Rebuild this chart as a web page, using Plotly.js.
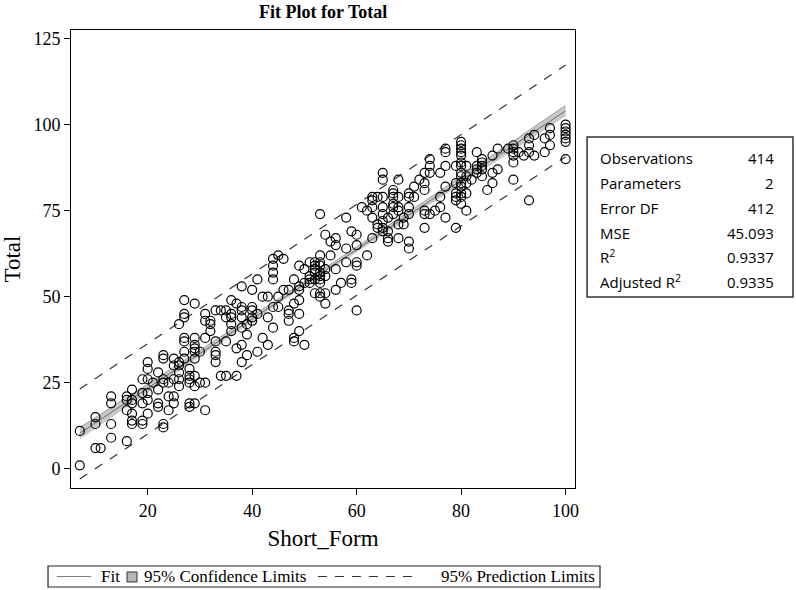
<!DOCTYPE html>
<html>
<head>
<meta charset="utf-8">
<script src="https://cdn.plot.ly/plotly-3.0.1.min.js"></script>
<style>
body{margin:0;background:#fff;}
#myPlot{width:796px;height:590px;}
</style>
</head>
<body>
<div id="myPlot"></div>
<script>
var shortForm = [
 7,7, 10,10,10, 11, 13,13,13,13, 16,16,16,16, 17,17,17,17,17,17,
 19,19,19,19,19, 20,20,20,20,20,20, 21, 22,22,22,22, 23,23,23,23,23,23,
 24,24,24, 25,25,25,25,25, 26,26,26,26,26,26, 27,27,27,27,27,27,27,
 28,28,28,28,28,28, 29,29,29,29,29,29,29,29,29, 30,30, 31,31,31,31,31,
 32,32,32, 33,33,33,33,33, 34,34, 35,35,35,35, 36,36,36,36,36, 37,37,37,
 38,38,38,38,38,38,38, 39,39,39, 40,40,40,40,40, 41,41,41, 42,42, 43,43,43,
 44,44,44,44,44,44, 45,45,45, 46,46, 47,47,47,47, 48,48,48,48,
 49,49,49,49,49,49, 50,50,50, 51,51,51,51, 52,52,52,52,52,52,
 53,53,53,53,53,53,53,53,53,53, 54,54,54,54,54, 55,55, 56,56,56,56, 57,
 58,58,58, 59,59,59, 60,60,60,60,60, 61, 62,62, 63,63,63,63,63, 64,64,64,
 65,65,65,65,65,65,65,65, 66,66,66,66, 67,67,67,67,67,67, 68,68,68,68,68,68,
 69,69, 70,70,70,70,70,70, 71,71, 72, 73,73,73,73,73,73, 74,74,74,74, 75,
 76,76,76, 77,77,77,77,77, 79,79,79,79,79,79,
 80,80,80,80,80,80,80,80,80,80,80,80,80,80, 81,81,81,81,81, 82, 83,83,83,83,
 84,84,84,84,84, 85, 86,86,86, 87,87, 89, 90,90,90,90,90,90, 91, 92,
 93,93,93,93, 94,94, 96,96, 97,97,97, 100,100,100,100,100,100,100
];
var total = [
 11,1, 15,13,6, 6, 21,19,13,9, 21,20,17,8, 23,20,19,16,14,13,
 26,22,19,14,13, 31,29,26,22,20,16, 25, 28,23,19,18, 33,32,26,25,13,12,
 25,21,17, 32,30,26,21,19, 42,31,30,28,26,24, 49,45,44,38,37,34,32,
 29,27,26,25,19,18, 48,38,36,35,34,32,27,24,19, 34,25, 45,43,38,25,17,
 43,42,40, 46,37,34,33,31, 46,27, 46,44,37,27, 49,45,44,42,40, 48,35,27,
 53,47,46,44,41,36,31, 42,39,33, 52,47,46,44,43, 55,45,34, 50,38, 50,44,36,
 61,59,57,55,47,41, 62,50,47, 61,52, 52,46,45,43, 55,48,38,37,
 59,53,52,49,45,40, 58,54,36, 60,56,55,54, 60,59,58,57,55,51,
 74,62,60,59,57,56,55,54,51,50, 68,58,56,51,48, 66,62, 67,65,58,52, 54,
 73,64,60, 69,55,54, 68,65,60,59,46, 76, 75,62, 79,78,76,73,67, 79,71,70,
 86,84,79,76,74,72,70,69, 73,69,67,66, 81,80,79,77,76,74, 84,79,76,75,71,67,
 73,71, 80,79,76,74,66,64, 82,79, 84, 86,83,81,75,74,70, 90,88,86,74, 75,
 86,79,76, 93,92,88,82,73, 88,83,80,79,78,70,
 95,94,93,92,91,89,88,86,85,83,82,80,79,77, 88,85,83,80,75, 84, 92,88,87,86,
 90,89,88,87,85, 81, 91,86,83, 93,87, 93, 94,93,92,91,89,84, 92, 91,
 96,94,92,78, 97,91, 96,92, 99,97,94, 100,99,98,97,96,95,90
];

///fit line and limits
var fitX = [7, 100];
var fitY = [10.3, 104.0];
var confX = [7, 30, 54, 80, 100];
var confUpper = [12.0, 34.4, 58.4, 84.9, 105.6];
var confLower = [8.6, 32.6, 57.0, 82.8, 102.4];
var predX = [7, 100];
var predUpper = [23.2, 117.3];
var predLower = [-3.0, 90.7];

///fit statistics box
var statLabels = ['Observations', 'Parameters', 'Error DF', 'MSE', 'R<sup>2</sup>', 'Adjusted R<sup>2</sup>'];
var statValues = ['414', '2', '412', '45.093', '0.9337', '0.9335'];

///legend texts
var legendNames = ['Fit', '95% Confidence Limits', '95% Prediction Limits'];

var xTicks = [20, 40, 60, 80, 100];
var yTicks = [0, 25, 50, 75, 100, 125];

var serif = 'Liberation Serif, Times New Roman, serif';
var sans = 'Open Sans, Liberation Sans, sans-serif';

var bandLo = {
  x: confX, y: confLower, type: 'scatter', mode: 'lines',
  line: {width: 0, color: 'rgba(0,0,0,0)'}, hoverinfo: 'skip'
};
var bandHi = {
  x: confX, y: confUpper, type: 'scatter', mode: 'lines',
  fill: 'tonexty', fillcolor: 'rgba(175,175,175,0.7)',
  line: {width: 0.8, color: 'rgba(130,130,130,0.8)'}
};
var fitLine = {
  x: fitX, y: fitY, type: 'scatter', mode: 'lines',
  line: {width: 1, color: '#6e6e6e'}
};
var predHi = {
  x: predX, y: predUpper, type: 'scatter', mode: 'lines',
  line: {width: 1.2, color: '#333', dash: 'dash'}
};
var predLo = {
  x: predX, y: predLower, type: 'scatter', mode: 'lines',
  line: {width: 1.2, color: '#333', dash: 'dash'}
};
var pts = {
  x: shortForm, y: total, type: 'scatter', mode: 'markers',
  marker: {symbol: 'circle-open', size: 9, color: '#000', line: {width: 1.2, color: '#000'}}
};

const data = [bandLo, bandHi, fitLine, predHi, predLo, pts];

// stats box text
var annots = [];
var rowY = [0.7205, 0.666, 0.6114, 0.5568, 0.5044, 0.4498];
for (var i = 0; i < statLabels.length; i++) {
  annots.push({xref: 'paper', yref: 'paper', x: 1.0456, y: rowY[i], xanchor: 'left', yanchor: 'middle',
    text: statLabels[i], showarrow: false, font: {family: sans, size: 15, color: '#000'}});
  annots.push({xref: 'paper', yref: 'paper', x: 1.399, y: rowY[i], xanchor: 'right', yanchor: 'middle',
    text: statValues[i], showarrow: false, font: {family: sans, size: 15, color: '#000'}});
}

// legend drawn by hand (plotly legend pushes the margin)
var legY = -0.1932;
var legFont = {family: serif, size: 17, color: '#000'};
annots.push({xref: 'paper', yref: 'paper', x: 0.1012, y: legY, xanchor: 'right', yanchor: 'middle',
  text: legendNames[0], showarrow: false, font: legFont});
annots.push({xref: 'paper', yref: 'paper', x: 0.1409, y: legY, xanchor: 'left', yanchor: 'middle',
  text: legendNames[1], showarrow: false, font: legFont});
annots.push({xref: 'paper', yref: 'paper', x: 1.0437, y: legY, xanchor: 'right', yanchor: 'middle',
  text: legendNames[2], showarrow: false, font: legFont});

var shapes = [
  {type: 'rect', xref: 'paper', yref: 'paper', x0: 1.024, x1: 1.4325, y0: 0.417, y1: 0.7664,
    line: {color: '#333', width: 1.5}, fillcolor: 'rgba(0,0,0,0)'},
  {type: 'rect', xref: 'paper', yref: 'paper', x0: -0.0456, x1: 1.0496, y0: -0.2162, y1: -0.1703,
    line: {color: '#222', width: 1.2}, fillcolor: 'rgba(0,0,0,0)'},
  {type: 'line', xref: 'paper', yref: 'paper', x0: -0.0278, x1: 0.04, y0: legY, y1: legY,
    line: {color: '#7a7a7a', width: 1}},
  {type: 'rect', xref: 'paper', yref: 'paper', x0: 0.1111, x1: 0.131, y0: -0.2052, y1: -0.1834,
    line: {color: '#333', width: 1}, fillcolor: 'rgba(175,175,175,0.9)'},
  {type: 'line', xref: 'paper', yref: 'paper', x0: 0.49, x1: 0.69, y0: legY, y1: legY,
    line: {color: '#333', width: 1.2, dash: '9px,8px'}}
];

var layout = {
  width: 796, height: 590,
  margin: {l: 71, r: 221, t: 30, b: 102},
  paper_bgcolor: '#fff', plot_bgcolor: '#fff',
  showlegend: false,
  title: {text: '<b>Fit Plot for Total</b>', x: 0.406, xanchor: 'center', y: 0.98, yanchor: 'middle',
    font: {family: serif, size: 18, color: '#000'}},
  xaxis: {
    range: [5.32, 101.8], tickvals: xTicks, ticks: 'outside', ticklen: 6, tickcolor: '#000',
    showgrid: false, zeroline: false, showline: true, linecolor: '#000', linewidth: 1, mirror: true,
    tickfont: {family: serif, size: 18, color: '#000'},
    title: {text: 'Short_Form', font: {family: serif, size: 23, color: '#000'}, standoff: 10}
  },
  yaxis: {
    range: [-5.6, 127.5], tickvals: yTicks, ticks: 'outside', ticklen: 6, tickcolor: '#000',
    showgrid: false, zeroline: false, showline: true, linecolor: '#000', linewidth: 1, mirror: true,
    tickfont: {family: serif, size: 18, color: '#000'},
    title: {text: 'Total', font: {family: serif, size: 23, color: '#000'}, standoff: 10}
  },
  shapes: shapes,
  annotations: annots
};

Plotly.newPlot('myPlot', data, layout, {displayModeBar: false, staticPlot: true});
</script>
</body>
</html>
